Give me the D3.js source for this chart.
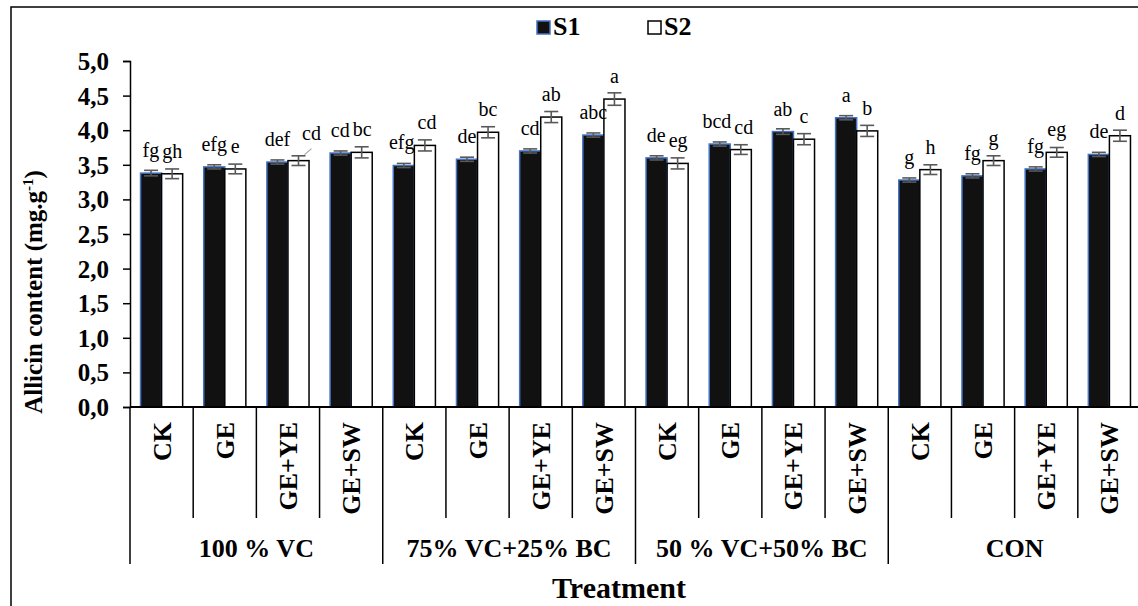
<!DOCTYPE html>
<html>
<head>
<meta charset="utf-8">
<script src="https://cdn.jsdelivr.net/npm/d3@7/dist/d3.min.js"></script>
<style>
  body { margin: 0; background: #fff; }
  svg text { font-family: "Liberation Serif", Tinos, "Times New Roman", Times, "DejaVu Serif", serif; }
</style>
</head>
<body>
<div class="svg-container"></div>
<script>
var width = 1138;
var height = 606;

// chart data
var groups = ["100 % VC", "75% VC+25% BC", "50 % VC+50% BC", "CON"];
var treatments = ["CK", "GE", "GE+YE", "GE+SW"];
var seriesNames = ["S1", "S2"];

var s1Values = [3.38, 3.47, 3.54, 3.67, 3.49, 3.58, 3.70, 3.93, 3.60, 3.80, 3.98, 4.18, 3.28, 3.34, 3.44, 3.65];
var s2Values = [3.37, 3.44, 3.56, 3.68, 3.78, 3.97, 4.19, 4.45, 3.52, 3.72, 3.87, 3.99, 3.43, 3.56, 3.68, 3.92];
var s1Errors = [0.04, 0.03, 0.03, 0.03, 0.03, 0.03, 0.03, 0.03, 0.03, 0.03, 0.04, 0.03, 0.03, 0.03, 0.03, 0.03];
var s2Errors = [0.07, 0.07, 0.07, 0.08, 0.08, 0.08, 0.08, 0.09, 0.08, 0.07, 0.08, 0.08, 0.07, 0.07, 0.07, 0.08];
var s1Letters = ["fg", "efg", "def", "cd", "efg", "de", "cd", "abc", "de", "bcd", "ab", "a", "g", "fg", "fg", "de"];
var s2Letters = ["gh", "e", "cd", "bc", "cd", "bc", "ab", "a", "eg", "cd", "c", "b", "h", "g", "eg", "d"];

var yTicks = [0, 0.5, 1, 1.5, 2, 2.5, 3, 3.5, 4, 4.5, 5];

var plot = { "left": 130, "right": 1141, "top": 61, "bottom": 407 };

// building rows (one per bar pair)
var rows = [];
groups.forEach(function(g, gi) {
  treatments.forEach(function(t, ti) {
    var i = gi * treatments.length + ti;
    rows.push({ "key": i, "group": g, "treatment": t,
                "S1": s1Values[i], "S2": s2Values[i],
                "S1err": s1Errors[i], "S2err": s2Errors[i],
                "S1lab": s1Letters[i], "S2lab": s2Letters[i] });
  });
});

var svg = d3.select(".svg-container").append("svg")
            .attr("width", width)
            .attr("height", height);

// outer frame (cut off on right and bottom like the picture)
svg.append("rect")
   .attr("x", 11).attr("y", 7)
   .attr("width", 1200).attr("height", 700)
   .attr("fill", "none")
   .attr("stroke", "#000")
   .attr("stroke-width", 1.5);

var scaleX = d3.scaleBand()
               .domain(rows.map(function(d) { return d.key; }))
               .range([plot.left, plot.right])
               .padding(0);

var scaleSeries = d3.scaleBand()
                    .domain(seriesNames)
                    .range([0, scaleX.bandwidth()])
                    .paddingInner(0)
                    .paddingOuter(0.5);

var scaleY = d3.scaleLinear()
               .domain([0, 5])
               .range([plot.bottom, plot.top]);

var formatTick = function(v) { return d3.format(".1f")(v).replace(".", ","); };

// y axis
var yAxis = svg.append("g")
               .attr("class", "yAxis")
               .attr("transform", "translate(" + plot.left + ",0)")
               .call(d3.axisLeft(scaleY).tickValues(yTicks).tickFormat(formatTick).tickSize(7).tickPadding(14));

yAxis.attr("font-family", null).attr("font-size", null);
yAxis.select(".domain").attr("stroke", "#000").attr("stroke-width", 1.5);
yAxis.selectAll(".tick line").attr("stroke", "#000").attr("stroke-width", 1.5);
yAxis.selectAll(".tick text")
     .attr("fill", "#000")
     .style("font-size", "25px")
     .style("font-weight", "bold")
     .attr("dy", "0.34em");

// bars
var barGroups = svg.append("g")
                   .attr("class", "bars")
                 .selectAll("g")
                 .data(rows)
                 .enter()
                 .append("g")
                   .attr("transform", function(d) { return "translate(" + scaleX(d.key) + ",0)"; });

barGroups.append("rect")
         .attr("x", scaleSeries("S1"))
         .attr("y", function(d) { return scaleY(d.S1); })
         .attr("width", scaleSeries.bandwidth())
         .attr("height", function(d) { return plot.bottom - scaleY(d.S1); })
         .attr("fill", "#111")
         .attr("stroke", "#4472c4")
         .attr("stroke-width", 1.5);

barGroups.append("rect")
         .attr("x", scaleSeries("S2"))
         .attr("y", function(d) { return scaleY(d.S2); })
         .attr("width", scaleSeries.bandwidth())
         .attr("height", function(d) { return plot.bottom - scaleY(d.S2); })
         .attr("fill", "#fff")
         .attr("stroke", "#000")
         .attr("stroke-width", 1.5);

// error bars
seriesNames.forEach(function(s) {
  var cx = scaleSeries(s) + scaleSeries.bandwidth() / 2;
  var err = barGroups.append("g").attr("class", "err-" + s)
                     .attr("stroke", "#595959")
                     .attr("stroke-width", 1.6)
                     .attr("fill", "none");
  err.append("line")
     .attr("x1", cx).attr("x2", cx)
     .attr("y1", function(d) { return scaleY(d[s] - d[s + "err"]); })
     .attr("y2", function(d) { return scaleY(d[s] + d[s + "err"]); });
  err.append("line")
     .attr("x1", cx - 7).attr("x2", cx + 7)
     .attr("y1", function(d) { return scaleY(d[s] + d[s + "err"]); })
     .attr("y2", function(d) { return scaleY(d[s] + d[s + "err"]); });
  err.append("line")
     .attr("x1", cx - 7).attr("x2", cx + 7)
     .attr("y1", function(d) { return scaleY(d[s] - d[s + "err"]); })
     .attr("y2", function(d) { return scaleY(d[s] - d[s + "err"]); });
});

// significance letters
seriesNames.forEach(function(s) {
  var cx = scaleSeries(s) + scaleSeries.bandwidth() / 2;
  barGroups.append("text")
           .attr("class", "lab-" + s)
           .attr("x", function(d) { return d.key == 2 && s == "S2" ? cx + 13 : cx; })
           .attr("y", function(d) { return scaleY(d[s]) - (d.key == 2 && s == "S2" ? 21 : 16); })
           .attr("text-anchor", "middle")
           .style("font-size", "20px")
           .attr("fill", "#000")
           .text(function(d) { return d[s + "lab"]; });
});

// push apart neighbouring letters that would collide
barGroups.each(function(d) {
  var g = d3.select(this);
  var a = g.select(".lab-S1"), b = g.select(".lab-S2");
  var ba = a.node().getBBox(), bb = b.node().getBBox();
  var vOverlap = ba.y < bb.y + bb.height && bb.y < ba.y + ba.height;
  var over = ba.x + ba.width + 3 - bb.x;
  if (vOverlap && over > 0) {
    a.attr("x", +a.attr("x") - over / 2);
    b.attr("x", +b.attr("x") + over / 2);
  }
});

// leader line for the shifted "cd" label
var shifted = rows[2];
svg.append("line")
   .attr("x1", scaleX(shifted.key) + scaleSeries("S2") + scaleSeries.bandwidth() / 2 + 6)
   .attr("y1", scaleY(shifted.S2) - 6)
   .attr("x2", scaleX(shifted.key) + scaleSeries("S2") + scaleSeries.bandwidth() / 2 + 13)
   .attr("y2", scaleY(shifted.S2) - 12)
   .attr("stroke", "#a6a6a6")
   .attr("stroke-width", 1.2);

// x axis line
svg.append("line")
   .attr("x1", plot.left).attr("x2", plot.right)
   .attr("y1", plot.bottom).attr("y2", plot.bottom)
   .attr("stroke", "#000")
   .attr("stroke-width", 2);

// category separators
var catBottom = 518;
var groupBottom = 564;
var sepX = d3.range(rows.length + 1).map(function(i) { return plot.left + i * scaleX.step(); });

svg.append("g")
     .attr("class", "separators")
   .selectAll("line")
   .data(sepX)
   .enter()
   .append("line")
     .attr("x1", function(d) { return d; })
     .attr("x2", function(d) { return d; })
     .attr("y1", plot.bottom)
     .attr("y2", function(d, i) { return i % treatments.length == 0 ? groupBottom : catBottom; })
     .attr("stroke", "#000")
     .attr("stroke-width", 1.5);

// treatment labels (rotated)
svg.append("g")
     .attr("class", "cat-labels")
   .selectAll("text")
   .data(rows)
   .enter()
   .append("text")
     .attr("transform", function(d) {
       return "translate(" + (scaleX(d.key) + scaleX.bandwidth() / 2 + 9) + "," + 422 + ") rotate(-90)";
     })
     .attr("text-anchor", "end")
     .style("font-size", "26px")
     .style("font-weight", "bold")
     .text(function(d) { return d.treatment; });

// group labels
svg.append("g")
     .attr("class", "group-labels")
   .selectAll("text")
   .data(groups)
   .enter()
   .append("text")
     .attr("x", function(d, i) { return plot.left + (i + 0.5) * treatments.length * scaleX.step(); })
     .attr("y", 557)
     .attr("text-anchor", "middle")
     .style("font-size", "26px")
     .style("font-weight", "bold")
     .text(function(d) { return d; });

// axis titles
svg.append("text")
   .attr("x", 619)
   .attr("y", 598)
   .attr("text-anchor", "middle")
   .style("font-size", "30px")
   .style("font-weight", "bold")
   .text("Treatment");

var yTitle = svg.append("text")
                .attr("transform", "translate(42,292) rotate(-90)")
                .attr("text-anchor", "middle")
                .style("font-size", "25px")
                .style("font-weight", "bold");
yTitle.append("tspan").text("Allicin content (mg.g");
yTitle.append("tspan").attr("dy", -9).style("font-size", "15px").text("-1");
yTitle.append("tspan").attr("dy", 9).text(")");

// legend
var legend = svg.append("g").attr("class", "legend");
var legendX = [537, 648];
seriesNames.forEach(function(s, i) {
  legend.append("rect")
        .attr("x", legendX[i]).attr("y", 21)
        .attr("width", 13).attr("height", 13)
        .attr("fill", i == 0 ? "#111" : "#fff")
        .attr("stroke", i == 0 ? "#4472c4" : "#000")
        .attr("stroke-width", 1.5);
  legend.append("text")
        .attr("x", legendX[i] + 16).attr("y", 35)
        .style("font-size", "26px")
        .style("font-weight", "bold")
        .text(s);
});
</script>
</body>
</html>
